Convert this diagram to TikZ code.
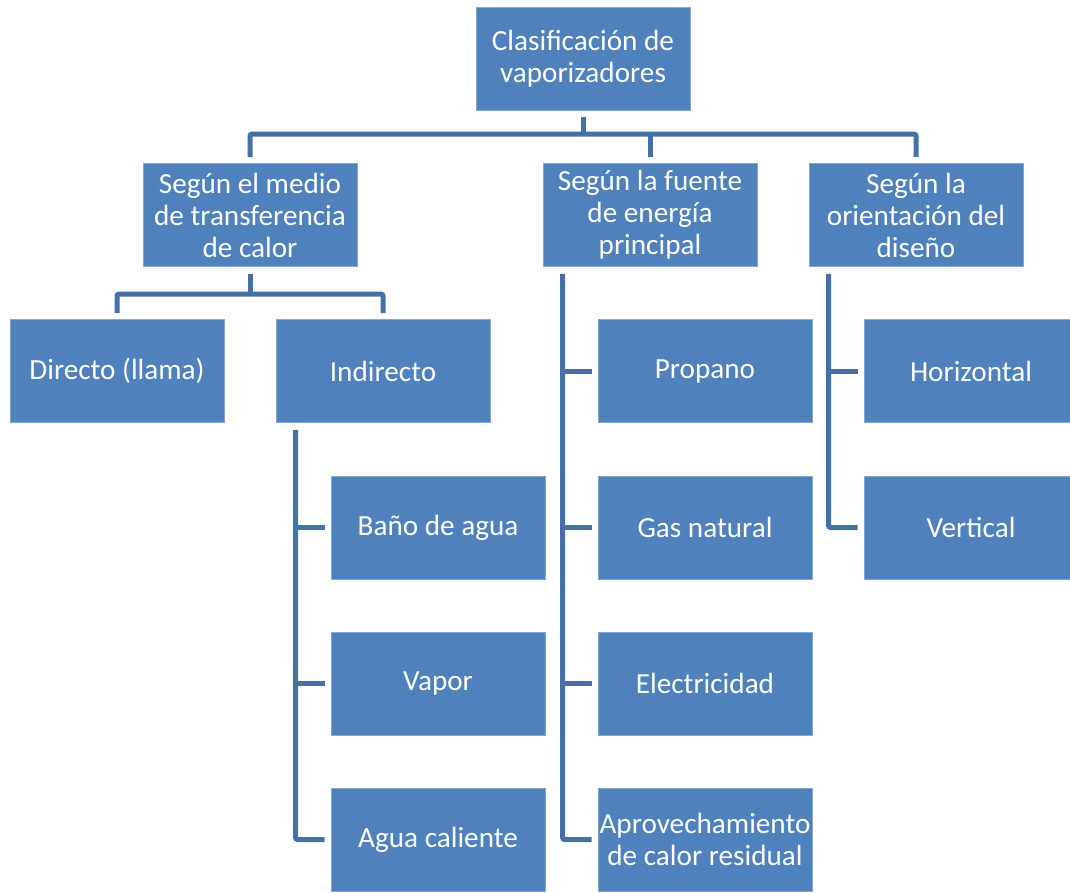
\documentclass[tikz,border=0pt]{standalone}
\usepackage{fontspec}
\setmainfont{Carlito}
\usetikzlibrary{positioning, calc}
\definecolor{boxblue}{HTML}{4F81BD}
\definecolor{lineblue}{HTML}{4571A8}

\begin{document}
\begin{tikzpicture}[x=0.5pt, y=-0.5pt,
                box/.style={rectangle, fill=boxblue, draw=boxblue!70!white, line width=0.4pt, minimum width=107pt, minimum height=51.5pt, inner sep=0pt, align=center, text=white, font=\fontsize{14.6}{16}\selectfont},
                link/.style={draw=lineblue, line width=2.5pt, rounded corners=1pt}]
                \useasboundingbox (0, 0) rectangle (1070, 893);

                \node[box] (root) at (583, 58.5) {Clasificación de \\ vaporizadores};

                \node[box] (medio) at (250, 215) {Según el medio \\ de transferencia \\ de calor};
                \node[box] (fuente) at (650, 215) {Según la fuente \\ de energía \\ principal};
                \node[box] (orient) at (916, 215) {Según la \\ orientación del \\ diseño};

                \node[box] (directo) at (117, 371) {Directo (llama)};
                \node[box] (indirecto) at (383, 371) {Indirecto};
                \node[box] (bano) at (438, 527.5) {Baño de agua};
                \node[box] (vapor) at (438, 683.5) {Vapor};
                \node[box] (agua) at (438, 839.5) {Agua caliente};

                \node[box] (propano) at (705, 371) {Propano};
                \node[box] (gas) at (705, 527.5) {Gas natural};
                \node[box] (elec) at (705, 683.5) {Electricidad};
                \node[box] (resid) at (705, 839.5) {Aprovechamiento \\ de calor residual};

                \node[box] (horiz) at (971, 371) {Horizontal};
                \node[box] (vert) at (971, 527.5) {Vertical};

                \draw[link] ([yshift=-3.5pt]root.south) -- ++(0, 17);
                \draw[link] ([yshift=3pt]medio.north) -- ++(0, -23) -| ([yshift=3pt]orient.north);
                \draw[link] ([yshift=3pt]fuente.north) -- ++(0, -23);

                \draw[link] ([yshift=-3.5pt]medio.south) -- ++(0, 20);
                \draw[link] ([yshift=3pt]directo.north) -- ++(0, -19) -| ([yshift=3pt]indirecto.north);

                \coordinate (indline) at ([xshift=10pt, yshift=-3.5pt]indirecto.south west);
                \draw[link] (indline) |- ([xshift=-3pt]agua.west);
                \draw[link] (indline |- bano.west) -- ([xshift=-3pt]bano.west);
                \draw[link] (indline |- vapor.west) -- ([xshift=-3pt]vapor.west);

                \coordinate (fueline) at ([xshift=10pt, yshift=-3.5pt]fuente.south west);
                \draw[link] (fueline) |- ([xshift=-3pt]resid.west);
                \draw[link] (fueline |- propano.west) -- ([xshift=-3pt]propano.west);
                \draw[link] (fueline |- gas.west) -- ([xshift=-3pt]gas.west);
                \draw[link] (fueline |- elec.west) -- ([xshift=-3pt]elec.west);

                \coordinate (oriline) at ([xshift=10pt, yshift=-3.5pt]orient.south west);
                \draw[link] (oriline) |- ([xshift=-3pt]vert.west);
                \draw[link] (oriline |- horiz.west) -- ([xshift=-3pt]horiz.west);
            \end{tikzpicture}
\end{document}
